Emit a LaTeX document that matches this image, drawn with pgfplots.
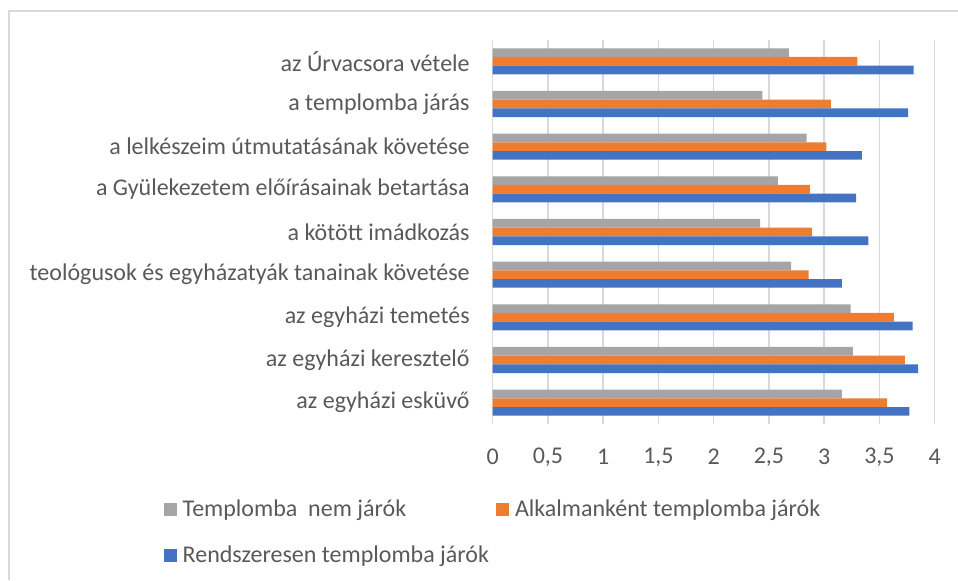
\documentclass[border=0pt]{standalone}
\usepackage{fontspec}
\setmainfont{Carlito}
\usepackage{pgfplots}
\pgfplotsset{compat=1.18}
\definecolor{cgray}{HTML}{A5A5A5}
\definecolor{corange}{HTML}{ED7D31}
\definecolor{cblue}{HTML}{4472C4}
\definecolor{cgrid}{HTML}{D9D9D9}
\definecolor{ctext}{HTML}{595959}
\begin{document}
\begin{tikzpicture}
\useasboundingbox (-246.35pt,-78pt) rectangle (232.65pt,212pt);
\begin{axis}[
  at={(0pt,0pt)}, anchor=south west,
  scale only axis, width=221pt, height=192pt,
  xbar, bar width=4.35pt,
  xmin=0, xmax=4, ymin=-0.5, ymax=8.5,
  xtick={0,0.5,...,4},
  ytick={0,1,...,8},
  yticklabels={az egyházi esküvő, az egyházi keresztelő, az egyházi temetés,
    teológusok és egyházatyák tanainak követése, a kötött imádkozás,
    a Gyülekezetem előírásainak betartása, a lelkészeim útmutatásának követése,
    a templomba járás, az Úrvacsora vétele},
  /pgf/number format/.cd, use comma, assume math mode=true, /pgfplots/.cd,
  xmajorgrids, grid style={draw=cgrid, line width=0.75pt},
  axis line style={draw=none},
  major tick length=0pt,
  tick style={draw=none},
  ticklabel style={font=\fontsize{12pt}{14pt}\selectfont, text=ctext},
  xticklabel style={anchor=center, yshift=-16.5pt},
  yticklabel style={anchor=east, inner sep=0pt, xshift=-11.35pt},
  legend columns=2,
  legend image code/.code={\fill[#1] (0pt,-3.25pt) rectangle (6.5pt,3.25pt);},
  legend style={at={(rel axis cs:0,0)}, anchor=west, xshift=-164.7pt, yshift=-54.2pt,
    draw=none, fill=none, inner sep=0pt, row sep=13pt,
    font=\fontsize{12pt}{14pt}\selectfont, text=ctext,
    nodes={inner sep=0pt},
    /tikz/every odd column/.append style={column sep=3pt},
    /tikz/every even column/.append style={column sep=3.5pt}},
  legend cell align=left,
]
\addplot[fill=cgray, draw=none, bar shift=4.35pt] coordinates {
  (3.16,0) (3.26,1) (3.24,2) (2.70,3) (2.42,4) (2.58,5) (2.84,6) (2.44,7) (2.68,8)};
\addlegendentry{Templomba\ \ nem járók}
\addplot[fill=corange, draw=none, bar shift=0pt] coordinates {
  (3.57,0) (3.73,1) (3.63,2) (2.86,3) (2.89,4) (2.87,5) (3.02,6) (3.06,7) (3.30,8)};
\addlegendentry{Alkalmanként templomba járók}
\addplot[fill=cblue, draw=none, bar shift=-4.35pt] coordinates {
  (3.77,0) (3.85,1) (3.80,2) (3.16,3) (3.40,4) (3.29,5) (3.34,6) (3.76,7) (3.81,8)};
\addlegendentry{Rendszeresen templomba járók}
\end{axis}
\draw[cgrid, line width=1pt] (-241.85pt,-78pt) -- (-241.85pt,206.5pt) -- (232.65pt,206.5pt);
\end{tikzpicture}
\end{document}
